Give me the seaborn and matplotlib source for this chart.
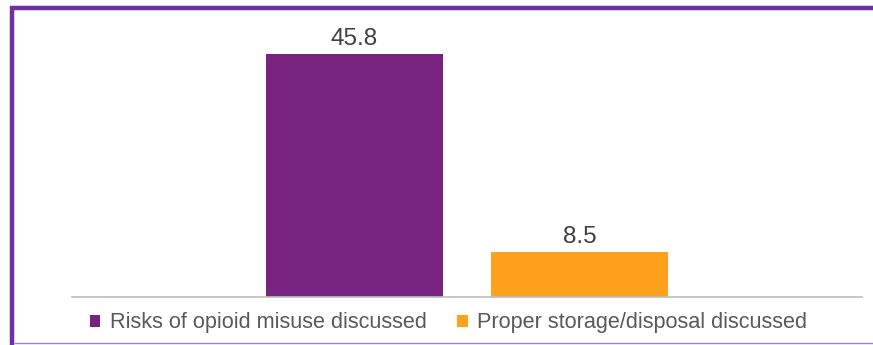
import matplotlib
matplotlib.use("Agg")
import matplotlib.pyplot as plt
import seaborn as sns
import pandas as pd
from matplotlib.patches import Patch
from matplotlib.lines import Line2D

# Data
group = ["All"]
series = ["Risks of opioid misuse discussed", "Proper storage/disposal discussed"]
values = [45.8, 8.5]
colors = ["#78237F", "#FFA11C"]

df = pd.DataFrame({"group": group * len(series), "series": series, "value": values})

sns.set_theme(style="white")
plt.rcParams["font.family"] = ["Liberation Sans", "DejaVu Sans"]

fig = plt.figure(figsize=(8.73, 3.45), dpi=100)
ax = fig.add_axes([0.0825, 0.1391, 0.9049, 0.7696])

sns.barplot(data=df, x="group", y="value", hue="series", hue_order=series,
            palette=colors, width=0.571, gap=0.215, saturation=1,
            legend=False, ax=ax, edgecolor="none")

ax.set_xlim(-0.5, 0.5)
ax.set_ylim(0, 50)
for c in ax.containers:
    ax.bar_label(c, fmt="%.1f", padding=3, fontsize=17.5, color="#404040")

for s in ["top", "left", "right"]:
    ax.spines[s].set_visible(False)
ax.spines["bottom"].set_color("#BFBFBF")
ax.spines["bottom"].set_linewidth(1.2)
ax.set_xticks([])
ax.set_yticks([])
ax.set_xlabel("")
ax.set_ylabel("")

handles = [Patch(facecolor=col, edgecolor="none", label=lab) for col, lab in zip(colors, series)]
fig.legend(handles=handles, loc="center", bbox_to_anchor=(0.514, 0.064),
           ncol=2, frameon=False, fontsize=15.6, labelcolor="#595959",
           handlelength=0.47, handleheight=0.47, handletextpad=0.46,
           columnspacing=1.4)

# Border lines (figure frame)
W, H = 873, 345
fig.add_artist(Line2D([10 / W, 1.0], [1 - 8 / H, 1 - 8 / H], transform=fig.transFigure,
                      color="#7030A0", linewidth=3.2, solid_capstyle="butt"))
fig.add_artist(Line2D([12 / W, 12 / W], [1 - 6 / H, 0.0], transform=fig.transFigure,
                      color="#7030A0", linewidth=3.2, solid_capstyle="butt"))
fig.add_artist(Line2D([14 / W, 1.0], [1 - 343 / H, 1 - 343 / H], transform=fig.transFigure,
                      color="#A67BD0", linewidth=1.0, solid_capstyle="butt"))

fig.savefig("out.png", dpi=100)
